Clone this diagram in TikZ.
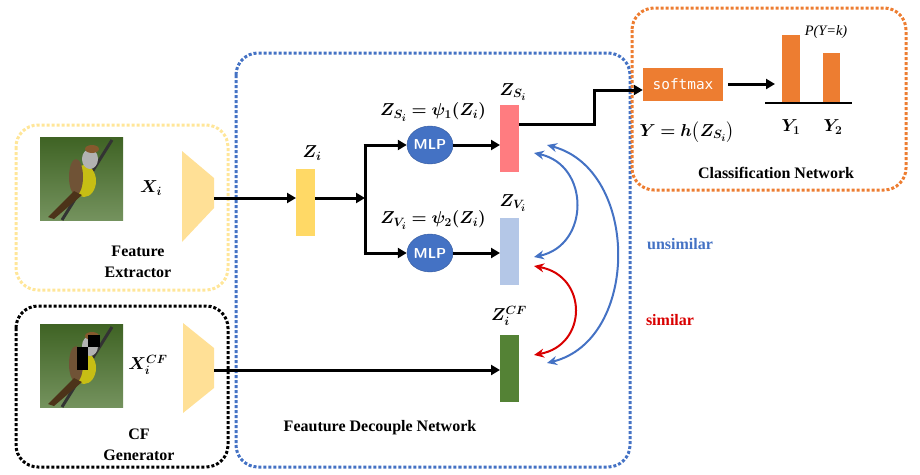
\documentclass[tikz,border=0pt]{standalone}
\usepackage{amsmath,bm}
\usepackage{fontspec}
\setmainfont{Liberation Serif}
\setmonofont{DejaVu Sans Mono}
\usetikzlibrary{arrows.meta,shapes.geometric}
\definecolor{dblue}{RGB}{68,114,196}
\definecolor{dorange}{RGB}{237,125,49}
\definecolor{dyellow}{RGB}{255,217,102}
\definecolor{lyellow}{RGB}{255,230,153}
\definecolor{trap}{RGB}{255,224,150}
\definecolor{pinkr}{RGB}{255,124,128}
\definecolor{lblue}{RGB}{180,199,231}
\definecolor{dgreen}{RGB}{84,130,53}
\definecolor{leaf}{RGB}{70,110,40}
\tikzset{
 dotbox/.style={rounded corners=22pt,line width=3pt,dotted},
 feat/.style={draw=none,minimum width=19pt,minimum height=67pt,inner sep=0},
 mlp/.style={ellipse,fill=dblue,draw=dblue!80!black,text=white,minimum width=44pt,minimum height=38pt,inner sep=0,font=\sffamily\bfseries\Large},
 arr/.style={line width=3pt,-{Triangle[length=9pt,width=10pt]}},
 darr/.style={line width=2pt,{Stealth[length=10pt,width=9pt]}-{Stealth[length=10pt,width=9pt]}},
 lbl/.style={font=\bfseries\fontsize{16}{21}\selectfont,align=center,inner sep=0},
 mth/.style={inner sep=0,font=\LARGE},
}
\begin{document}
\begin{tikzpicture}[x=1pt,y=-1pt]
\useasboundingbox (0,0) rectangle (920,474);
% boxes
\draw[dotbox,draw=lyellow] (16,125) rectangle (228,290);
\draw[dotbox,draw=black] (16,306) rectangle (228,467);
\draw[dotbox,draw=dblue] (236,53) rectangle (630,467);
\draw[dotbox,draw=dorange] (632,8) rectangle (906,190);
% birds
\foreach \yy/\nm in {137/b1,324/b2}{
 \node[inner sep=0,minimum width=83pt,minimum height=83pt,top color=leaf!90!black,bottom color=leaf!75!white,anchor=north west] (\nm) at (40,\yy) {};
 \begin{scope}[shift={(40,\yy)}]
  \draw[line width=3pt,black!80] (22,83) -- (72,3);
  \fill[yellow!45!olive!90] (44,44) ellipse (12pt and 16pt);
  \fill[brown!50!black!90] (36,40) ellipse (7pt and 18pt);
  \fill[gray!60] (50,22) ellipse (8pt and 10pt);
  \fill[brown!70!black] (52,12) ellipse (7pt and 4pt);
  \fill[brown!40!black] (34,54) -- (8,80) -- (14,82) -- (42,58) -- cycle;
 \end{scope}
}
\fill[black] (77,347) rectangle (88,370);
\fill[black] (88,335) rectangle (100,347);
% trapezoids
\fill[trap] (182,151) -- (214,178) -- (214,208) -- (182,242) -- cycle;
\coordinate (t1) at (214,198);
\fill[trap] (183,323) -- (214,348) -- (214,388) -- (183,413) -- cycle;
\coordinate (t2) at (214,370);
\node[mth] at (151,188) {$\bm{X_i}$};
\node[mth] at (148,365) {$\bm{X_i^{CF}}$};
\node[lbl] at (138,262) {Feature\\Extractor};
\node[lbl] at (139,445) {CF\\Generator};
% features
\node[feat,fill=dyellow,anchor=north west] (zi) at (296,169) {};
\node[mth] at (312,153) {$\bm{Z_i}$};
\draw[arr] (t1) -- (zi.west|-t1);
\coordinate (br) at (365,198);
\draw[arr] (zi.east|-br) -- (br);
\node[mlp] (m1) at (430,145) {MLP};
\node[mlp] (m2) at (430,253) {MLP};
\draw[arr] ([xshift=-1.5pt]br|-m1) -- (m1.west);
\draw[arr] ([xshift=-1.5pt]br|-m2) -- (m2.west);
\draw[line width=3pt] (br|-m1) -- (br|-m2);
\node[mth] at (433,112) {$\bm{Z_{S_i}=\psi_1(Z_i)}$};
\node[mth] at (433,220) {$\bm{Z_{V_i}=\psi_2(Z_i)}$};
\node[feat,fill=pinkr,anchor=north west] (zs) at (500,105) {};
\node[feat,fill=lblue,anchor=north west] (zv) at (500,218) {};
\node[feat,fill=dgreen,anchor=north west] (zc) at (500,335) {};
\node[mth] at (513,92) {$\bm{Z_{S_i}}$};
\node[mth] at (513,203) {$\bm{Z_{V_i}}$};
\node[mth] at (509,316) {$\bm{Z_i^{CF}}$};
\draw[arr] (m1.east) -- (zs.west|-m1);
\draw[arr] (m2.east) -- (zv.west|-m2);
\draw[arr] (t2) -- (zc.west|-t2);
% classification
\node[fill=dorange,text=white,minimum width=80pt,minimum height=33pt,inner sep=0,font=\ttfamily\Large] (sm) at (683,84) {softmax};
\draw[arr] (zs.east|-0,124) -- (594,124) -- (594,90) -- (sm.west|-0,90);
\draw[arr] ([xshift=5pt]sm.east) -- (775,84);
\fill[dorange] (782,35) rectangle (800,102);
\fill[dorange] (823,53) rectangle (840,102);
\draw[line width=2pt] (765,103) -- (852,103);
\node[mth] at (791,127) {$\bm{Y_1}$};
\node[mth] at (833,127) {$\bm{Y_2}$};
\node[inner sep=0,font=\Large\itshape] at (826,32) {P(Y=k)};
\node[mth] at (687,132) {$\bm{Y=h\big(Z_{S_i}\big)}$};
\node[inner sep=0,lbl] at (776,173) {Classification Network};
% arcs
\draw[darr,dblue] (534,153) .. controls (590,165) and (590,245) .. (534,257);
\draw[darr,red!85!black] (534,266) .. controls (588,276) and (588,345) .. (534,355);
\draw[darr,dblue] (547,145) .. controls (640,170) and (640,340) .. (547,363);
\node[text=dblue,lbl] at (680,244) {unsimilar};
\node[text=red!85!black,lbl] at (670,320) {similar};
\node[lbl] at (380,428) {Feauture Decouple Network};
\end{tikzpicture}
\end{document}
